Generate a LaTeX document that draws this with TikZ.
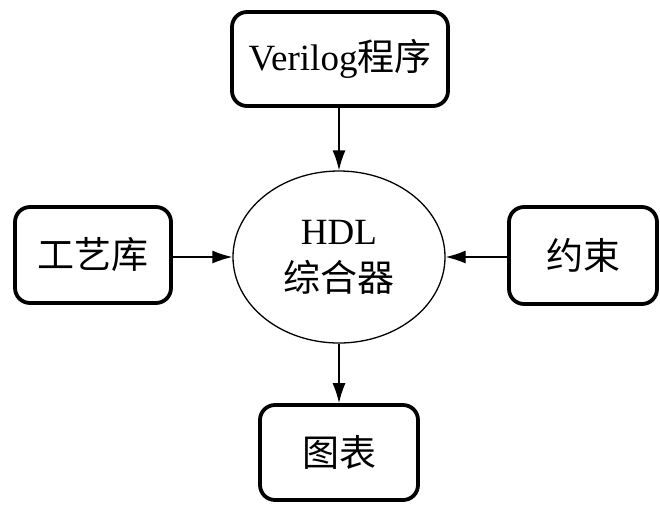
\documentclass[tikz,border=0pt]{standalone}
\usepackage{fontspec}
\setmainfont{Liberation Serif}
\newfontfamily\cjk{Noto Sans CJK SC}
\usetikzlibrary{shapes.geometric,arrows.meta}

\begin{document}
\begin{tikzpicture}[x=1pt,y=-1pt,
  every node/.style={font=\fontsize{37}{45}\selectfont, inner sep=0pt},
  blockbox/.style={draw, line width=3.8pt, rounded corners=15pt},
  synth/.style={draw, ellipse, line width=1.3pt},
  flow/.style={line width=1.3pt, -{Latex[length=20pt,width=13pt]}}
]
\useasboundingbox (0,0) rectangle (660,504);

% source boxes and target box
\node[blockbox, minimum width=216pt, minimum height=94pt] (src) at (340,59)
  {Verilog{\cjk 程序}};
\node[blockbox, minimum width=156pt, minimum height=96pt] (lib) at (93,255)
  {\cjk 工艺库};
\node[blockbox, minimum width=148pt, minimum height=97pt] (cons) at (583,255.5)
  {\cjk 约束};
\node[blockbox, minimum width=158pt, minimum height=95pt] (out) at (339,452.5)
  {\cjk 图表};

% central synthesizer
\node[synth, minimum width=212pt, minimum height=172pt, align=center] (hdl) at (339,257)
  {HDL\\[2pt]{\cjk 综合器}};

% data flow
\draw[flow] (src.south -| hdl.north) -- (hdl.north);
\draw[flow] (lib.east |- hdl.west) -- (hdl.west);
\draw[flow] (cons.west |- hdl.east) -- (hdl.east);
\draw[flow] (hdl.south) -- (hdl.south |- out.north);
\end{tikzpicture}
\end{document}
